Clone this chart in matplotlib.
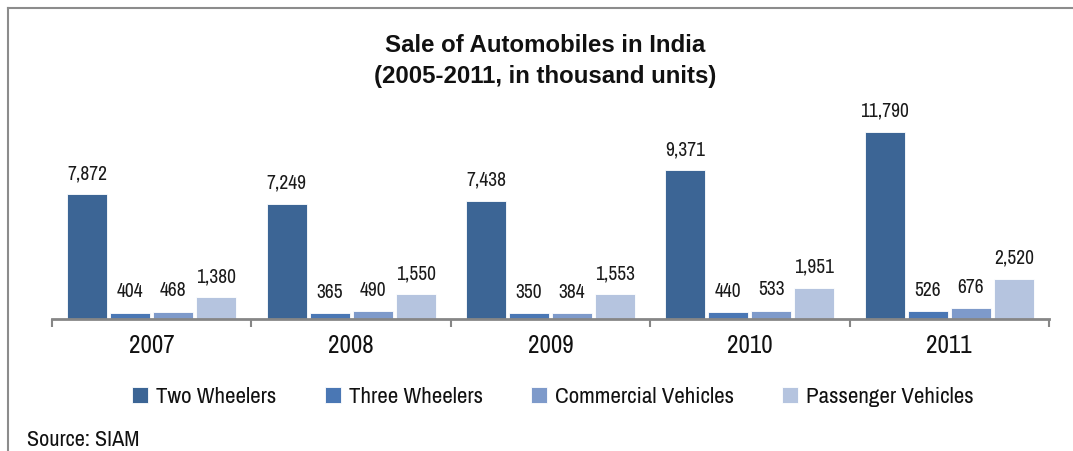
import matplotlib
matplotlib.use("Agg")
import matplotlib.pyplot as plt
from matplotlib.lines import Line2D
import numpy as np

years = ["2007", "2008", "2009", "2010", "2011"]
series_names = ["Two Wheelers", "Three Wheelers", "Commercial Vehicles", "Passenger Vehicles"]
two_wheelers = [7872, 7249, 7438, 9371, 11790]
three_wheelers = [404, 365, 350, 440, 526]
commercial = [468, 490, 384, 533, 676]
passenger = [1380, 1550, 1553, 1951, 2520]
colors = ["#3C6595", "#4A77B4", "#7E9ACA", "#B5C4DF"]

FONT = ["Archivo Narrow", "Liberation Sans Narrow", "Roboto Condensed", "DejaVu Sans"]
TITLE_FONT = ["Liberation Sans", "DejaVu Sans"]
plt.rcParams['font.family'] = FONT

W, H = 1073, 451
fig = plt.figure(figsize=(W / 100, H / 100), dpi=100)
ax = fig.add_axes([52 / W, 132 / H, (1049 - 52) / W, 222 / H])

data = [two_wheelers, three_wheelers, commercial, passenger]
x = np.arange(len(years))
slot = 43 / 199.4
bw = 40 / 199.4
for i, (name, vals, c) in enumerate(zip(series_names, data, colors)):
    pos = x + (i - 1.5) * slot
    bars = ax.bar(pos, vals, width=bw, color=c, label=name, edgecolor="white", linewidth=0.6, zorder=2)
    for b, v in zip(bars, vals):
        ax.annotate(f"{v:,}", (b.get_x() + b.get_width() / 2, v), xytext=(0, 8),
                    textcoords="offset points", ha="center", va="bottom",
                    fontsize=14, color="#1a1a1a")

ax.set_xlim(-0.5, len(years) - 0.5)
ax.set_ylim(0, 14000)
ax.set_yticks([])
for s in ["top", "right", "left"]:
    ax.spines[s].set_visible(False)
ax.spines["bottom"].set_color("#868686")
ax.spines["bottom"].set_linewidth(2)
ax.set_xticks(np.arange(-0.5, len(years) + 0.5, 1.0))
ax.set_xticklabels([])
ax.tick_params(axis="x", length=6, width=1.5, color="#868686", direction="out")
for xi, y in zip(x, years):
    ax.text(xi, -0.12, y, transform=ax.get_xaxis_transform(), ha="center", va="center",
            fontsize=18, color="#111111")

fig.text(545 / W, 1 - 46 / H, "Sale of Automobiles in India", ha="center", va="center",
         fontsize=17.3, fontweight="bold", color="#111111", family=TITLE_FONT)
fig.text(545 / W, 1 - 77 / H, "(2005-2011, in thousand units)", ha="center", va="center",
         fontsize=17.3, fontweight="bold", color="#111111", family=TITLE_FONT)

leg = fig.legend(loc="center", bbox_to_anchor=(553 / W, 1 - 397 / H), ncol=4, frameon=False,
                 fontsize=16.5, handlelength=0.7, handleheight=0.7, handletextpad=0.35,
                 columnspacing=2.1, labelcolor="#111111")

fig.text(27 / W, 1 - 440 / H, "Source: SIAM", ha="left", va="center", fontsize=16, color="#111111")

fig.add_artist(Line2D([8 / W, 1], [1 - 8 / H, 1 - 8 / H], transform=fig.transFigure, color="#8c8c8c", lw=1.5))
fig.add_artist(Line2D([8 / W, 8 / W], [0, 1 - 8 / H], transform=fig.transFigure, color="#8c8c8c", lw=1.5))

fig.savefig("out.png", dpi=100)
